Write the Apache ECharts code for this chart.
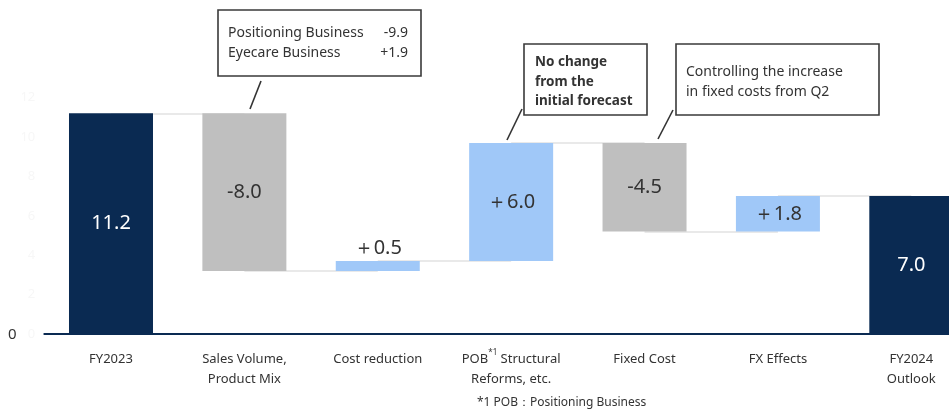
<!DOCTYPE html>
<html>
<head>
<meta charset="utf-8">
<script src="https://cdn.jsdelivr.net/npm/echarts@6/dist/echarts.min.js"></script>
<style>
  html, body { margin: 0; padding: 0; background: #ffffff; overflow: hidden; width: 949px; height: 410px; }
  #chart { width: 978px; height: 410px; }
</style>
</head>
<body>
<div id="chart"></div>
<script>
// Operating profit bridge, FY2023 -> FY2024 outlook
const categories = [
  'FY2023',
  'Sales Volume,\nProduct Mix',
  'Cost reduction',
  'POB{sup|*1} Structural\nReforms, etc.',
  'Fixed Cost',
  'FX Effects',
  'FY2024\nOutlook'
];
const changes = [11.2, -8.0, 0.5, 6.0, -4.5, 1.8, 7.0];
const barKinds = ['total', 'change', 'change', 'change', 'change', 'change', 'total'];
const valueLabels = ['11.2', '-8.0', '＋0.5', '＋6.0', '-4.5', '＋1.8', '7.0'];
const yTicks = [0, 2, 4, 6, 8, 10, 12];

const FONT = '"Noto Sans", "Open Sans", sans-serif';
const NAVY = '#0a2a52';
const GREY = '#bfbfbf';
const SKY = '#a0c8f8';

// Floating base + visible height for each step of the bridge
const bases = [];
const heights = [];
const levels = [];
let running = 0;
const r1 = v => Math.round(v * 10) / 10;
changes.forEach((v, i) => {
  if (barKinds[i] === 'total') {
    bases.push(0);
    heights.push(v);
    running = v;
  } else if (v >= 0) {
    bases.push(r1(running));
    heights.push(v);
    running = r1(running + v);
  } else {
    running = r1(running + v);
    bases.push(running);
    heights.push(-v);
  }
  levels.push(running);
});

function barColor(i) {
  if (barKinds[i] === 'total') return NAVY;
  return changes[i] < 0 ? GREY : SKY;
}

// Connector segments between consecutive bars at the running level
const connectors = [];
for (let i = 0; i < categories.length - 1; i++) {
  connectors.push([{ coord: [i, levels[i]] }, { coord: [i + 1, levels[i]] }]);
}

const visibleData = heights.map((h, i) => ({
  value: h,
  itemStyle: { color: barColor(i) },
  label: {
    show: true,
    position: changes[i] >= 0 && barKinds[i] !== 'total' && h < 1 ? 'top' : 'inside',
    distance: 3,
    formatter: valueLabels[i],
    color: barKinds[i] === 'total' ? '#ffffff' : '#333333',
    fontSize: 20,
    fontFamily: FONT
  }
}));

const chart = echarts.init(document.getElementById('chart'), null, { renderer: 'canvas' });

function noteBox(x, y, w, h, lines, opts) {
  const children = [{
    type: 'rect',
    shape: { x: 0, y: 0, width: w, height: h },
    style: { fill: '#ffffff', stroke: '#3a3a3a', lineWidth: 1.6 }
  }];
  lines.forEach(l => {
    children.push({
      type: 'text',
      x: l.x, y: l.y,
      style: {
        text: l.text,
        fill: '#333333',
        font: (opts.bold ? 'bold ' : '') + opts.size + 'px ' + FONT,
        textAlign: l.align || 'left',
        textVerticalAlign: 'middle'
      }
    });
  });
  return { type: 'group', x: x, y: y, children: children, z: 100 };
}

function leader(x1, y1, x2, y2) {
  return {
    type: 'line',
    shape: { x1: x1, y1: y1, x2: x2, y2: y2 },
    style: { stroke: '#333333', lineWidth: 1.6 },
    z: 100
  };
}

chart.setOption({
  backgroundColor: '#ffffff',
  animation: false,
  grid: { left: 44.3, right: 0, top: 97.6, bottom: 76 },
  xAxis: {
    type: 'category',
    data: categories,
    boundaryGap: true,
    axisLine: { show: true, lineStyle: { color: NAVY, width: 2 } },
    axisTick: { show: false },
    axisLabel: {
      interval: 0,
      margin: 15,
      color: '#333333',
      fontSize: 13,
      lineHeight: 20,
      fontFamily: FONT,
      rich: {
        sup: { fontSize: 8, verticalAlign: 'top', lineHeight: 20, color: '#333333', fontFamily: FONT }
      }
    }
  },
  yAxis: {
    type: 'value',
    min: yTicks[0],
    max: yTicks[yTicks.length - 1],
    interval: yTicks[1] - yTicks[0],
    axisLine: { show: false },
    axisTick: { show: false },
    splitLine: { show: false },
    axisLabel: { color: '#f7f7f7', fontSize: 13, margin: 9, fontFamily: FONT }
  },
  series: [
    {
      name: 'base',
      type: 'bar',
      stack: 'bridge',
      barWidth: 84,
      z: 2,
      silent: true,
      itemStyle: { color: 'transparent' },
      data: bases,
      markLine: {
        z: 1,
        silent: true,
        symbol: ['none', 'none'],
        label: { show: false },
        lineStyle: { color: '#e2e2e2', width: 1.6, type: 'solid' },
        data: connectors
      }
    },
    {
      name: 'value',
      type: 'bar',
      stack: 'bridge',
      barWidth: 84,
      z: 3,
      data: visibleData
    }
  ],
  graphic: [
    {
      type: 'text', left: 8, top: 327, z: 100,
      style: { text: '0', fill: '#333333', font: '15px ' + FONT }
    },
    noteBox(218, 10, 203, 66, [
      { x: 10, y: 23, text: 'Positioning Business' },
      { x: 190, y: 23, text: '-9.9', align: 'right' },
      { x: 10, y: 43, text: 'Eyecare Business' },
      { x: 190, y: 43, text: '+1.9', align: 'right' }
    ], { size: 14 }),
    leader(261, 81, 250, 109),
    noteBox(524, 44, 123, 71, [
      { x: 11, y: 18, text: 'No change' },
      { x: 11, y: 38, text: 'from the' },
      { x: 11, y: 57, text: 'initial forecast' }
    ], { size: 13.5, bold: true }),
    leader(522, 109, 507, 140),
    noteBox(676, 44, 203, 71, [
      { x: 10, y: 28, text: 'Controlling the increase' },
      { x: 10, y: 48, text: 'in fixed costs from Q2' }
    ], { size: 14 }),
    leader(673, 110, 658, 139),
    {
      type: 'text', left: 477, top: 397, z: 100,
      style: { text: '*1 POB：Positioning Business', fill: '#333333', font: '12px ' + FONT }
    }
  ]
});
</script>
</body>
</html>
